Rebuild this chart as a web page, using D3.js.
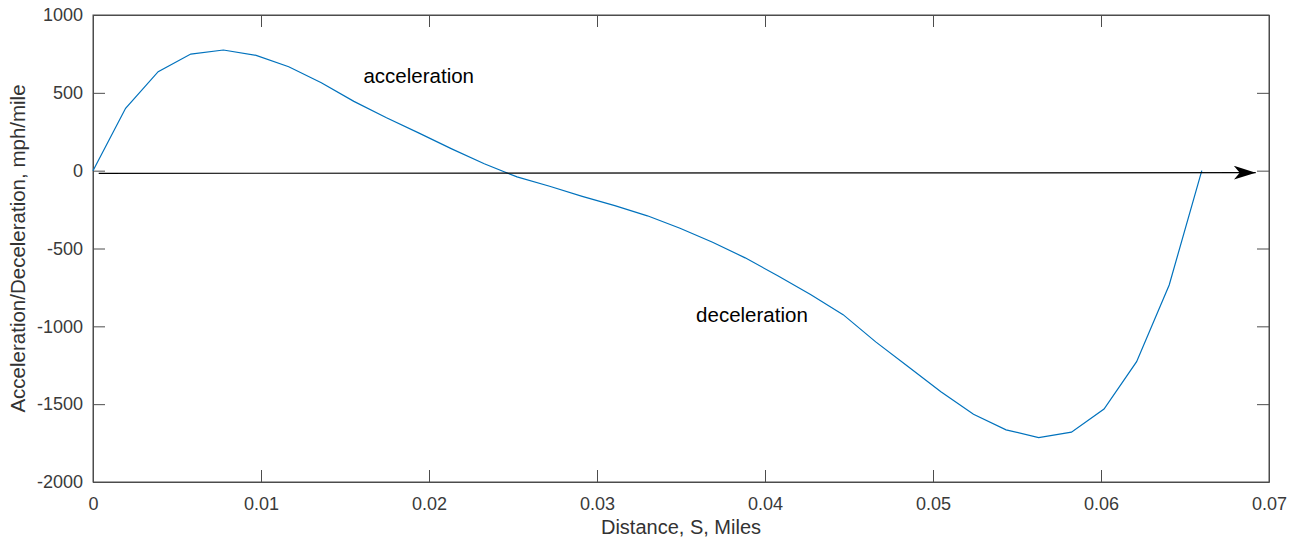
<!DOCTYPE html>
<html>
<head>
<meta charset="utf-8">
<script src="https://cdn.jsdelivr.net/npm/d3@7"></script>
<style>
  body { margin: 0; background: #fff; }
  text { font-family: "Liberation Sans", Arial, sans-serif; }
</style>
</head>
<body>
<div id="chart"></div>
<script>
// Distance (miles) and acceleration/deceleration (mph/mile)
const distance = [0, 0.00194, 0.00388, 0.00582, 0.00776, 0.00971, 0.01165, 0.01359, 0.01553,
  0.01747, 0.01941, 0.02135, 0.02329, 0.02524, 0.02718, 0.02912, 0.03106, 0.03300, 0.03494,
  0.03688, 0.03882, 0.04076, 0.04271, 0.04465, 0.04659, 0.04853, 0.05047, 0.05241, 0.05435,
  0.05629, 0.05824, 0.06018, 0.06212, 0.06406, 0.06600];
const accel = [0, 401, 636, 749, 775, 741, 668, 565, 445, 340, 241, 140, 44, -40, -100, -165,
  -225, -290, -370, -460, -560, -675, -795, -925, -1100, -1260, -1420, -1565, -1665, -1715,
  -1680, -1531, -1227, -734, 0];

const xTicks = [0, 0.01, 0.02, 0.03, 0.04, 0.05, 0.06, 0.07];
const yTicks = [-2000, -1500, -1000, -500, 0, 500, 1000];

// annotation arrow (data coords) and labels
const arrowX = [0.00034, 0.06921];
const arrowY = [-17, -13];
const labels = [
  { text: "acceleration", x: 0.0161, y: 610 },
  { text: "deceleration", x: 0.0359, y: -925 }
];

const W = 1300, H = 542;
const margin = { top: 15, right: 31, bottom: 60, left: 93 };
const width = W - margin.left - margin.right;
const height = H - margin.top - margin.bottom;

const svg = d3.select("#chart").append("svg")
  .attr("width", W).attr("height", H);

const g = svg.append("g")
  .attr("transform", "translate(" + margin.left + "," + margin.top + ")");

const x = d3.scaleLinear().domain([0, 0.07]).range([0, width]);
const y = d3.scaleLinear().domain([-2000, 1000]).range([height, 0]);

const axisColor = "#4d4d4d";
const tickLen = 12;
const plain = d => String(d);

// axes, ticks pointing inward
const xAxis = g.append("g")
  .attr("transform", "translate(0," + height + ")")
  .call(d3.axisBottom(x).tickValues(xTicks).tickFormat(plain).tickSizeInner(-tickLen).tickSizeOuter(0).tickPadding(15));
const yAxis = g.append("g")
  .call(d3.axisLeft(y).tickValues(yTicks).tickFormat(plain).tickSizeInner(-tickLen).tickSizeOuter(0).tickPadding(10));
const xTop = g.append("g")
  .call(d3.axisTop(x).tickValues(xTicks).tickFormat("").tickSizeInner(-tickLen).tickSizeOuter(0));
const yRight = g.append("g")
  .attr("transform", "translate(" + width + ",0)")
  .call(d3.axisRight(y).tickValues(yTicks).tickFormat("").tickSizeInner(-tickLen).tickSizeOuter(0));

[xAxis, yAxis, xTop, yRight].forEach(a => {
  a.selectAll("path, line").attr("stroke", axisColor).attr("stroke-width", 1);
  a.selectAll("text")
    .attr("fill", "#3a3a3a")
    .style("font-size", "18px");
});

// box
g.append("rect")
  .attr("x", 0).attr("y", 0)
  .attr("width", width).attr("height", height)
  .attr("fill", "none")
  .attr("stroke", axisColor)
  .attr("stroke-width", 1);

// curve
const line = d3.line()
  .x((d, i) => x(distance[i]))
  .y(d => y(d));

g.append("path")
  .datum(accel)
  .attr("fill", "none")
  .attr("stroke", "#0072BD")
  .attr("stroke-width", 1.2)
  .attr("d", line);

// arrow
svg.append("defs").append("marker")
  .attr("id", "head")
  .attr("viewBox", "0 0 22 14")
  .attr("refX", 22).attr("refY", 7)
  .attr("markerWidth", 22).attr("markerHeight", 14)
  .attr("markerUnits", "userSpaceOnUse")
  .attr("orient", "auto")
  .append("path")
  .attr("d", "M0,0 L22,7 L0,14 L6,7 Z")
  .attr("fill", "#000");

g.append("line")
  .attr("x1", x(arrowX[0])).attr("y1", y(arrowY[0]))
  .attr("x2", x(arrowX[1])).attr("y2", y(arrowY[1]))
  .attr("stroke", "#000")
  .attr("stroke-width", 1.2)
  .attr("marker-end", "url(#head)");

// text labels
g.selectAll(".lbl")
  .data(labels)
  .enter().append("text")
  .attr("class", "lbl")
  .attr("x", d => x(d.x))
  .attr("y", d => y(d.y))
  .attr("dy", "0.35em")
  .style("font-size", "20.5px")
  .attr("fill", "#000")
  .text(d => d.text);

// axis labels
svg.append("text")
  .attr("x", margin.left + width / 2)
  .attr("y", 534)
  .style("text-anchor", "middle")
  .style("font-size", "20px")
  .attr("fill", "#333")
  .text("Distance, S, Miles");

svg.append("text")
  .attr("transform", "translate(25," + (margin.top + height / 2) + ") rotate(-90)")
  .style("text-anchor", "middle")
  .style("font-size", "20.5px")
  .attr("fill", "#333")
  .text("Acceleration/Deceleration, mph/mile");
</script>
</body>
</html>
